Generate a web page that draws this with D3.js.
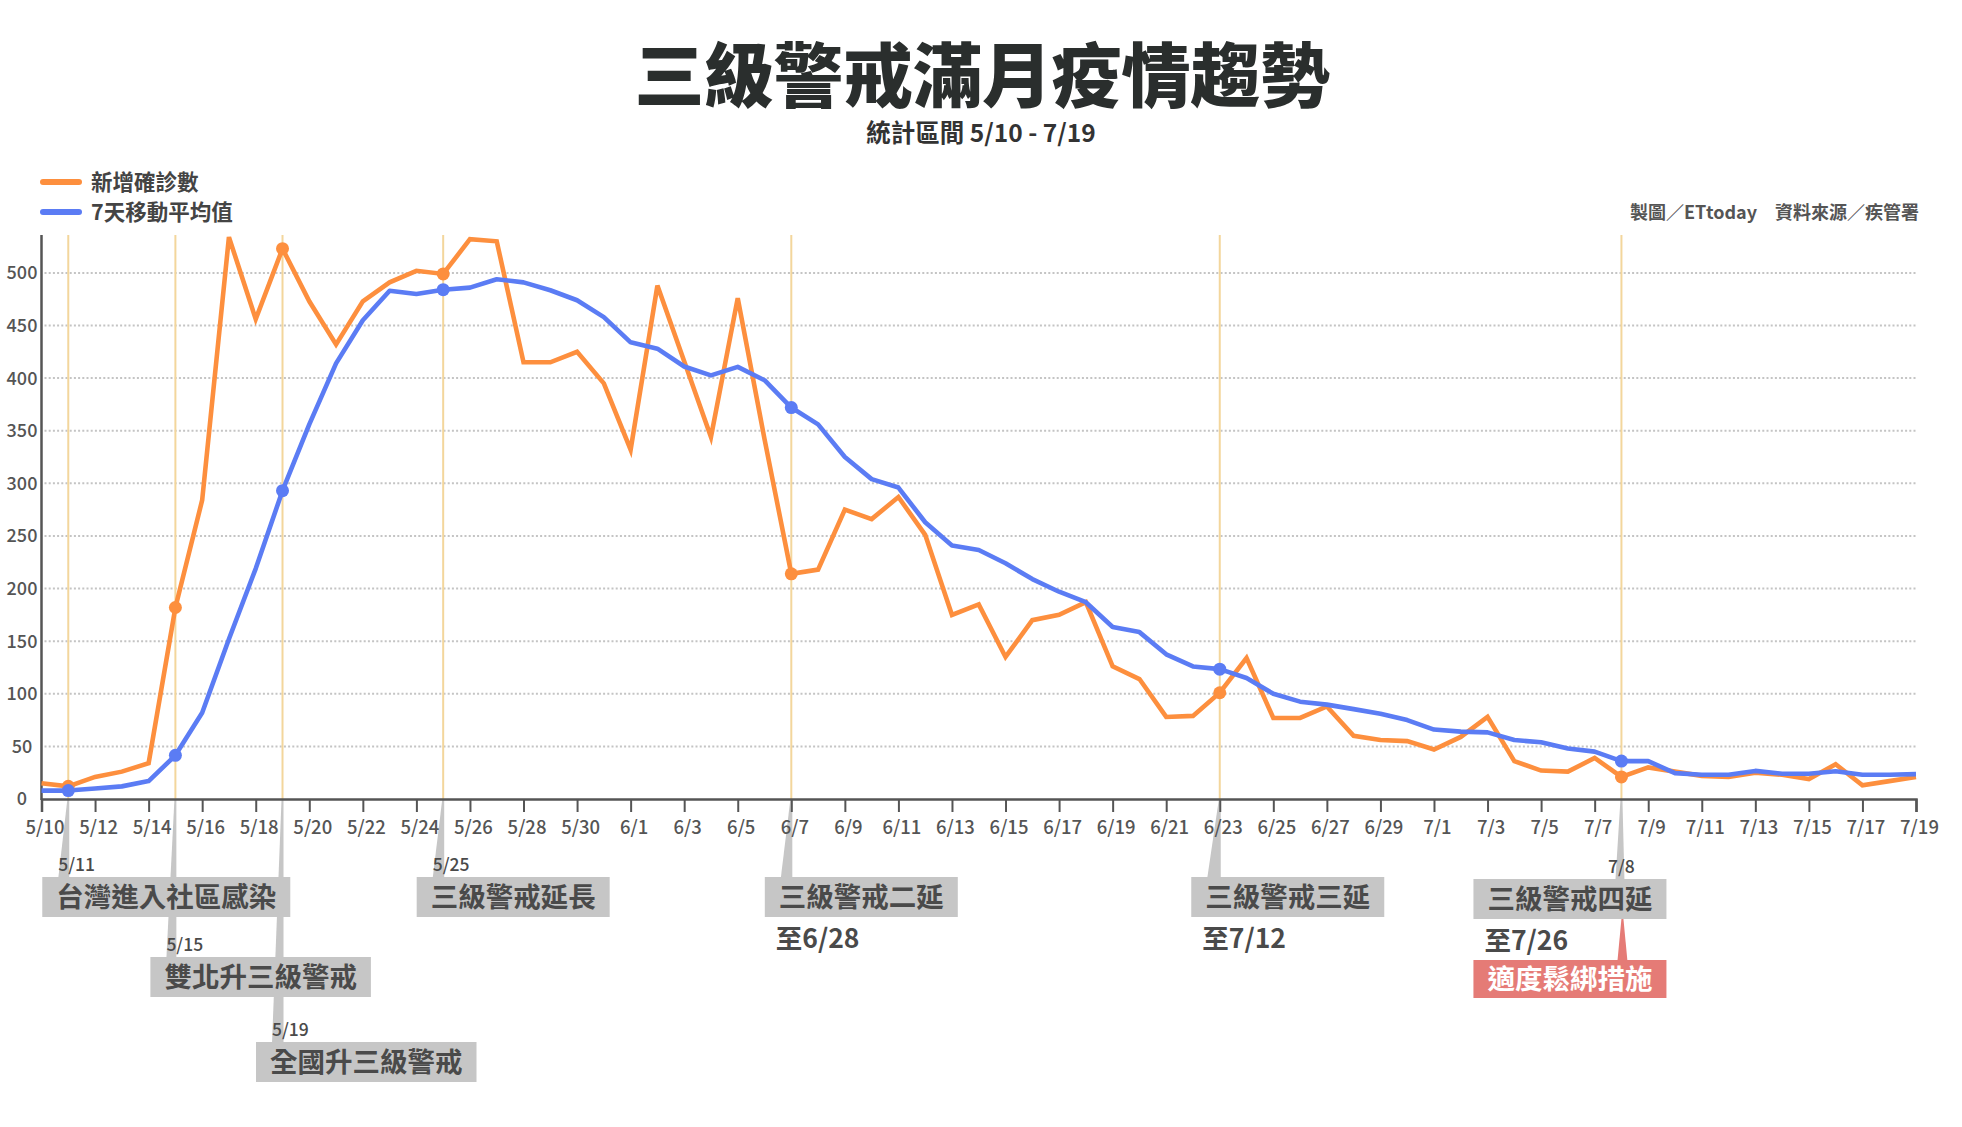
<!DOCTYPE html>
<html>
<head>
<meta charset="utf-8">
<script src="https://cdn.jsdelivr.net/npm/d3@7"></script>
<style>
  html, body { margin: 0; padding: 0; background: #ffffff; }
  svg { display: block; font-family: "Noto Sans CJK TC", "Noto Sans", sans-serif; }
</style>
</head>
<body>
<svg id="chart" width="1962" height="1127"></svg>
<script>
// ---------------- DATA ----------------
const dates = [
  "5/10","5/11","5/12","5/13","5/14","5/15","5/16","5/17","5/18","5/19",
  "5/20","5/21","5/22","5/23","5/24","5/25","5/26","5/27","5/28","5/29",
  "5/30","5/31","6/1","6/2","6/3","6/4","6/5","6/6","6/7","6/8",
  "6/9","6/10","6/11","6/12","6/13","6/14","6/15","6/16","6/17","6/18",
  "6/19","6/20","6/21","6/22","6/23","6/24","6/25","6/26","6/27","6/28",
  "6/29","6/30","7/1","7/2","7/3","7/4","7/5","7/6","7/7","7/8",
  "7/9","7/10","7/11","7/12","7/13","7/14","7/15","7/16","7/17","7/18","7/19"
];
const newCases = [
  15, 12, 21, 26, 34, 182, 284, 534, 456, 523,
  473, 432, 473, 491, 502, 499, 532, 530, 415, 415,
  425, 395, 332, 488, 416, 344, 476, 342, 214, 218,
  275, 266, 287, 251, 175, 185, 135, 170, 175, 187,
  126, 114, 78, 79, 101, 134, 77, 77, 88, 60,
  56, 55, 47, 59, 78, 36, 27, 26, 39, 21,
  30, 26, 22, 21, 25, 23, 19, 33, 13, 17, 21
];
const movingAvg = [
  8, 8, 10, 12, 17, 41.5, 82, 152, 219, 293,
  356, 414, 455, 483, 480, 484, 486, 494, 491, 483.5,
  474, 458, 434, 428, 411, 402.6, 410.7, 398, 372, 356,
  325, 304, 296, 263, 241, 236.6, 224, 209, 197, 187,
  163.5, 158.6, 137.5, 126, 123.4, 115, 100, 92.5, 89.7, 85.4,
  81, 75, 66, 64, 63.3, 56, 54, 48, 45, 36,
  36, 24.6, 23, 23, 26.7, 24, 24, 26.4, 23, 23, 23.6
];
const yTicks = [0, 50, 100, 150, 200, 250, 300, 350, 400, 450, 500];
const xTickLabels = [
  "5/10","5/12","5/14","5/16","5/18","5/20","5/22","5/24","5/26","5/28","5/30",
  "6/1","6/3","6/5","6/7","6/9","6/11","6/13","6/15","6/17","6/19","6/21","6/23",
  "6/25","6/27","6/29","7/1","7/3","7/5","7/7","7/9","7/11","7/13","7/15","7/17","7/19"
];
const seriesNames = ["新增確診數", "7天移動平均值"];
const eventDates = ["5/11", "5/15", "5/19", "5/25", "6/7", "6/23", "7/8"];
const eventTitles = ["台灣進入社區感染", "雙北升三級警戒", "全國升三級警戒", "三級警戒延長",
                     "三級警戒二延", "三級警戒三延", "三級警戒四延"];
const eventNotes = ["", "", "", "", "至6/28", "至7/12", "至7/26"];
const eventShowDate = [true, true, true, true, false, false, true];
const extraNote = { date: "7/8", text: "適度鬆綁措施" };

const titleText = "三級警戒滿月疫情趨勢";
const subtitleText = "統計區間 5/10 - 7/19";
const sourceText = "製圖／ETtoday\u2002\u2002資料來源／疾管署";

// ---------------- LAYOUT / STYLE ----------------
const W = 1962, H = 1127;
const plot = { left: 41.5, right: 1916, top: 235, bottom: 799 };
const C = {
  orange: "#fd8f3e", blue: "#5b7cf4", axis: "#555555", grid: "#c4c4c4",
  event: "#f3d69c", text: "#4a4a4a", box: "#c6c6c6", boxText: "#4a4a4a",
  red: "#e57b76", title: "#2a2e2d"
};
const boxLayout = [
  { dx: -26, top: 877 },
  { dx: -25, top: 957 },
  { dx: -26.5, top: 1042 },
  { dx: -26.5, top: 877 },
  { dx: -26.5, top: 877 },
  { dx: -28.5, top: 877 },
  { dx: -148, top: 879 }
];

const svg = d3.select("#chart");
svg.append("rect").attr("width", W).attr("height", H).attr("fill", "#fff");

const x = d3.scaleLinear().domain([0, dates.length - 1]).range([plot.left, plot.right]);
const y = d3.scaleLinear().domain([0, 536]).range([plot.bottom, plot.top]);
const idx = d => dates.indexOf(d);

// Title
svg.append("text").attr("x", 982).attr("y", 102).attr("text-anchor", "middle")
  .attr("font-size", 70).attr("font-weight", 900).attr("fill", C.title)
  .attr("letter-spacing", -0.5).text(titleText);
svg.append("text").attr("x", 981).attr("y", 142).attr("text-anchor", "middle")
  .attr("font-size", 24.5).attr("font-weight", 700).attr("fill", "#333").text(subtitleText);

// Legend
const legendColors = [C.orange, C.blue];
const legendY = [182, 212];
seriesNames.forEach((n, i) => {
  svg.append("line").attr("x1", 43).attr("x2", 79).attr("y1", legendY[i]).attr("y2", legendY[i])
    .attr("stroke", legendColors[i]).attr("stroke-width", 6).attr("stroke-linecap", "round");
  svg.append("text").attr("x", 91).attr("y", legendY[i]).attr("dy", "0.36em")
    .attr("font-size", 21.5).attr("font-weight", 700).attr("fill", "#444").text(n);
});

// Source
svg.append("text").attr("x", 1919).attr("y", 213).attr("dy", "0.36em").attr("text-anchor", "end")
  .attr("font-size", 18).attr("font-weight", 700).attr("fill", "#555").text(sourceText);

// Grid lines
svg.append("g").selectAll("line").data(yTicks.filter(v => v > 0)).join("line")
  .attr("x1", plot.left + 3).attr("x2", plot.right)
  .attr("y1", d => y(d)).attr("y2", d => y(d))
  .attr("stroke", C.grid).attr("stroke-width", 2).attr("stroke-dasharray", "2,2.2");

// Event vertical lines
svg.append("g").selectAll("line").data(eventDates).join("line")
  .attr("x1", d => x(idx(d))).attr("x2", d => x(idx(d)))
  .attr("y1", plot.top).attr("y2", plot.bottom)
  .attr("stroke", C.event).attr("stroke-width", 2);

// Annotation groups (pointers drawn below axis labels)
const gPtr = svg.append("g");

// Y axis
svg.append("line").attr("x1", plot.left).attr("x2", plot.left).attr("y1", plot.top).attr("y2", plot.bottom + 1)
  .attr("stroke", C.axis).attr("stroke-width", 2.5);
svg.append("g").selectAll("text").data(yTicks).join("text")
  .attr("x", 22).attr("y", d => y(d)).attr("dy", "0.36em").attr("text-anchor", "middle")
  .attr("font-size", 18).attr("font-weight", 500).attr("fill", C.axis).text(d => d);

// X axis with d3 axis
const xAxis = d3.axisBottom(x)
  .tickValues(xTickLabels.map(idx))
  .tickFormat(i => dates[i])
  .tickSize(13).tickPadding(9);
const gx = svg.append("g").attr("transform", `translate(0,${plot.bottom})`).call(xAxis);
gx.select(".domain").attr("stroke", C.axis).attr("stroke-width", 2.5);
gx.selectAll(".tick line").attr("stroke", C.axis).attr("stroke-width", 2);
gx.selectAll(".tick text").attr("font-size", 18.5).attr("font-weight", 500)
  .attr("fill", C.axis).attr("font-family", "Noto Sans CJK TC").attr("dx", 3);

// Lines
const line = d3.line().x((d, i) => x(i)).y(d => y(d));
svg.append("path").datum(newCases).attr("d", line).attr("fill", "none")
  .attr("stroke", C.orange).attr("stroke-width", 4.6).attr("stroke-linejoin", "miter");
svg.append("path").datum(movingAvg).attr("d", line).attr("fill", "none")
  .attr("stroke", C.blue).attr("stroke-width", 4.6).attr("stroke-linejoin", "round");

// Markers
const evIdx = eventDates.map(idx);
svg.append("g").selectAll("circle").data(evIdx).join("circle")
  .attr("cx", i => x(i)).attr("cy", i => y(newCases[i])).attr("r", 6.5).attr("fill", C.orange);
svg.append("g").selectAll("circle").data(evIdx).join("circle")
  .attr("cx", i => x(i)).attr("cy", i => y(movingAvg[i])).attr("r", 6.5).attr("fill", C.blue);

// Annotations
const fs = 27.5, pad = 14, boxH = 40;
const gBox = svg.append("g"), gTxt = svg.append("g");
eventDates.forEach((d, k) => {
  const xd = x(idx(d));
  const L = boxLayout[k];
  const left = xd + L.dx;
  const w = eventTitles[k].length * fs + pad * 2;
  const bx1 = k === 6 ? xd - 6 : left + 16, bx2 = k === 6 ? xd + 3 : xd + 1;
  gPtr.append("polygon")
    .attr("points", `${xd - 1},${plot.bottom + 1} ${xd + 1},${plot.bottom + 1} ${bx2},${L.top + 1} ${bx1},${L.top + 1}`)
    .attr("fill", C.box);
  gBox.append("rect").attr("x", left).attr("y", L.top).attr("width", w).attr("height", boxH).attr("fill", C.box);
  gTxt.append("text").attr("x", left + pad).attr("y", L.top + boxH / 2).attr("dy", "0.37em")
    .attr("font-size", fs).attr("font-weight", 700).attr("fill", C.boxText).text(eventTitles[k]);
  if (eventShowDate[k]) {
    const t = gTxt.append("text").attr("y", L.top - 6).attr("font-size", 17.5).attr("font-weight", 500)
      .attr("fill", C.text).text(d);
    if (k === 6) t.attr("x", xd).attr("text-anchor", "middle");
    else t.attr("x", left + 16);
  }
  if (eventNotes[k]) {
    gTxt.append("text").attr("x", left + 11).attr("y", L.top + boxH + 31)
      .attr("font-size", fs - 1).attr("font-weight", 700).attr("fill", C.text).text(eventNotes[k]);
  }
  if (d === extraNote.date) {
    const top2 = 960;
    gPtr.append("polygon")
      .attr("points", `${xd},${L.top + boxH} ${xd + 2},${L.top + boxH} ${xd + 6},${top2 + 1} ${xd - 4},${top2 + 1}`)
      .attr("fill", C.red);
    gBox.append("rect").attr("x", left).attr("y", top2).attr("width", w).attr("height", 38).attr("fill", C.red);
    gTxt.append("text").attr("x", left + pad).attr("y", top2 + 19).attr("dy", "0.37em")
      .attr("font-size", fs).attr("font-weight", 700).attr("fill", "#fff").text(extraNote.text);
  }
});
</script>
</body>
</html>
